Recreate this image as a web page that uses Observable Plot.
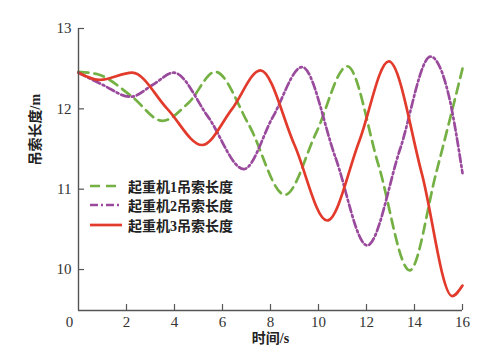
<!DOCTYPE html>
<html><head><meta charset="utf-8">
<script src="https://cdn.jsdelivr.net/npm/d3@7"></script>
<script src="https://cdn.jsdelivr.net/npm/@observablehq/plot@0.6"></script>
<style>
body{margin:0;background:#fff;}
#wrap{position:relative;width:483px;height:364px;}
#legend{position:absolute;left:90px;top:176px;font-family:"Liberation Serif","Times New Roman","DejaVu Serif","Noto Sans CJK SC",serif;font-size:14px;font-weight:600;color:#222;}
.row{display:flex;align-items:center;height:19.5px;white-space:nowrap;}
.row svg{margin-right:6px;}
svg text{font-family:"Liberation Serif","Times New Roman","DejaVu Serif","Noto Sans CJK SC",serif;}
</style></head><body><div id="wrap"><div id="legend"></div></div>
<script>
// crane 1 rope length (green dashed)
const t1 = [0, 0.8, 2.2, 3.5, 4.6, 5.7, 7.1, 8.6, 9.9, 11.2, 12.5, 13.8, 14.9, 16];
const v1 = [12.46, 12.43, 12.16, 11.85, 12.08, 12.46, 11.8, 10.93, 11.7, 12.53, 11.3, 9.99, 11.2, 12.50];
// crane 2 rope length (purple dash-dot)
const t2 = [0, 1.0, 2.17, 3.1, 3.97, 5.4, 6.89, 8.1, 9.32, 10.7, 12.03, 13.4, 14.67, 15.4, 16];
const v2 = [12.45, 12.3, 12.15, 12.3, 12.45, 11.9, 11.25, 11.9, 12.52, 11.4, 10.30, 11.5, 12.65, 12.2, 11.2];
// crane 3 rope length (red solid)
const t3 = [0, 0.9, 2.24, 3.7, 5.15, 6.4, 7.58, 9.0, 10.36, 11.7, 12.93, 14.3, 15.57, 16];
const v3 = [12.45, 12.36, 12.45, 12.0, 11.55, 12.0, 12.48, 11.55, 10.61, 11.6, 12.59, 11.2, 9.67, 9.80];

const seriesNames = ["起重机1吊索长度", "起重机2吊索长度", "起重机3吊索长度"];
const seriesColors = ["#74b043", "#9a4a9c", "#e23b2c"];
const seriesDash = ["10,6", "8,3,2,3", null];
const xTicks = [2, 4, 6, 8, 10, 12, 14, 16];
const yTicks = [10, 11, 12, 13];
const xLabel = "时间/s";
const yLabel = "吊索长度/m";
const yMin = 9.49;

const rows = [];
[[t1, v1], [t2, v2], [t3, v3]].forEach(([t, v], i) => t.forEach((x, j) => rows.push({s: i, t: x, v: v[j]})));

const font = '"Liberation Serif","Times New Roman","DejaVu Serif","Noto Sans CJK SC",serif';
const W = 483, H = 364, mL = 78, mR = 21, mT = 28, mB = 54;
const plotW = W - mL - mR, plotH = H - mT - mB;

const lineMarks = [0, 1, 2].map(i => Plot.line(rows.filter(d => d.s === i), {
  x: "t", y: "v", stroke: seriesColors[i], strokeWidth: 2.7,
  strokeDasharray: seriesDash[i], curve: "monotone-x"
}));

const chart = Plot.plot({
  width: W, height: H,
  marginLeft: mL, marginRight: mR, marginTop: mT, marginBottom: mB,
  style: {fontFamily: font, fontSize: "15px", color: "#333", background: "#fff", overflow: "visible"},
  x: {domain: [0, 16], axis: null},
  y: {domain: [yMin, 13], axis: null},
  marks: [
    ...lineMarks,
    Plot.ruleX([0], {stroke: "#555", strokeWidth: 1.4}),
    Plot.ruleY([yMin], {stroke: "#555", strokeWidth: 1.4}),
    Plot.tickY(yTicks, {y: d => d, stroke: "#555", strokeWidth: 1.2, insetRight: plotW - 6}),
    Plot.tickX(xTicks, {x: d => d, stroke: "#555", strokeWidth: 1.2, insetTop: plotH - 6}),
    Plot.axisY(yTicks, {tickSize: 0, tickPadding: 7, fontSize: 15, fill: "#333", label: null, tickFormat: d => String(d)}),
    Plot.axisX(xTicks, {tickSize: 0, tickPadding: 6, fontSize: 15, fill: "#333", label: null, tickFormat: d => String(d)}),
    Plot.axisX([0], {tickSize: 0, tickPadding: 6, fontSize: 15, fill: "#333", dx: -9, label: null, tickFormat: d => String(d)}),
    Plot.text([xLabel], {text: d => d, frameAnchor: "bottom", dy: 32, fontSize: 14, fontWeight: "bold", fill: "#222"}),
    Plot.text([yLabel], {text: d => d, frameAnchor: "left", rotate: -90, dx: -43, dy: -4, fontSize: 14, fontWeight: 600, fill: "#222"})
  ]
});
document.getElementById("wrap").prepend(chart);

const leg = document.getElementById("legend");
seriesNames.forEach((name, i) => {
  const row = document.createElement("div");
  row.className = "row";
  row.innerHTML = `<svg width="32" height="6"><line x1="0" y1="3" x2="32" y2="3" stroke="${seriesColors[i]}" stroke-width="2.7" ${seriesDash[i] ? `stroke-dasharray="${seriesDash[i]}"` : ""}/></svg><span>${name}</span>`;
  leg.appendChild(row);
});
</script>
</body></html>
